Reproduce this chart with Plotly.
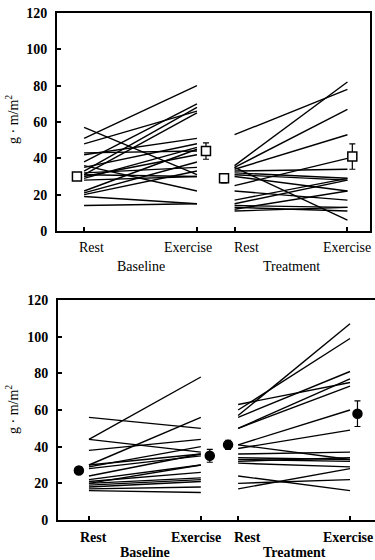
import plotly.graph_objects as go

# ---------------- data ----------------
conditions = ["Rest", "Exercise", "Rest", "Exercise"]
groups = ["Baseline", "Treatment"]

# Top panel (open squares)
top_base_rest = [57, 51, 48, 43, 42, 38, 35, 33, 32, 31, 31, 30, 29, 28, 36, 22, 21, 20, 19, 14]
top_base_ex = [31, 80, 66, 44, 51, 70, 48, 68, 35, 65, 30, 42, 46, 30, 22, 45, 38, 33, 15, 15]
top_treat_rest = [53, 36, 35, 34, 25, 35, 33, 32, 31, 30, 22, 17, 15, 14, 13, 11, 12]
top_treat_ex = [78, 82, 67, 53, 40, 6, 34, 29, 28, 22, 17, 29, 28, 13, 11, 13, 22]
top_means = [30, 44, 29, 41]
top_errs = [2, 4.5, 2.5, 7]

# Bottom panel (filled circles)
bot_base_rest = [56, 44, 44, 30, 38, 30, 29, 28, 24, 22, 21, 20, 19, 18, 17, 16, 20]
bot_base_ex = [50, 78, 37, 56, 44, 36, 40, 35, 36, 30, 26, 23, 22, 21, 18, 15, 30]
bot_treat_rest = [57, 60, 63, 56, 50, 50, 41, 39, 41, 36, 34, 33, 32, 31, 24, 20, 17]
bot_treat_ex = [107, 99, 75, 81, 77, 73, 60, 49, 33, 37, 33, 32, 34, 29, 16, 22, 28]
bot_means = [27, 35, 41, 58]
bot_errs = [2, 3.5, 2.5, 7]

y_ticks = [0, 20, 40, 60, 80, 100, 120]
tick_pos = [1, 4, 5, 8]

FONT = "Liberation Serif"
W, H = 375, 560

fig = go.Figure()


def pair_xy(rest, ex, x0, x1):
    xs, ys = [], []
    for r, e in zip(rest, ex):
        xs += [x0, x1, None]
        ys += [r, e, None]
    return xs, ys


def add_panel(idx, base_r, base_e, tr_r, tr_e, means, errs, mean_offsets, symbol, mcolor):
    xa = "x" if idx == 1 else "x2"
    ya = "y" if idx == 1 else "y2"
    for r, e, (x0, x1) in [(base_r, base_e, (tick_pos[0], tick_pos[1])),
                           (tr_r, tr_e, (tick_pos[2], tick_pos[3]))]:
        xs, ys = pair_xy(r, e, x0, x1)
        fig.add_trace(go.Scatter(x=xs, y=ys, mode="lines", xaxis=xa, yaxis=ya,
                                 line=dict(color="black", width=1.4),
                                 hoverinfo="skip", showlegend=False))
    mx = [p + o for p, o in zip(tick_pos, mean_offsets)]
    fig.add_trace(go.Scatter(x=mx, y=means, mode="markers", xaxis=xa, yaxis=ya,
                             marker=dict(symbol=symbol, size=9, color=mcolor,
                                         line=dict(color="black", width=1.5)),
                             error_y=dict(type="data", array=errs, color="black",
                                          thickness=1.2, width=3),
                             showlegend=False))


add_panel(1, top_base_rest, top_base_ex, top_treat_rest, top_treat_ex,
          top_means, top_errs, [-0.19, 0.24, -0.28, 0.13], "square", "white")
add_panel(2, bot_base_rest, bot_base_ex, bot_treat_rest, bot_treat_ex,
          bot_means, bot_errs, [-0.27, 0.24, -0.27, 0.2], "circle", "black")


def px_x(p):
    return p / W


def px_y(p):
    return 1 - p / H


def fnt(bold, size=14):
    f = dict(family=FONT, size=size, color="black")
    if bold:
        f["weight"] = "bold"
    return f


def axis_common(bold):
    return dict(showgrid=False, zeroline=False, linecolor="black", linewidth=2,
                ticks="inside", tickcolor="black", ticklen=4, tickwidth=1.5,
                automargin=False, tickfont=fnt(bold), ticklabeloverflow="allow")


fig.update_layout(
    width=W, height=H,
    margin=dict(l=0, r=0, t=0, b=0, autoexpand=False),
    paper_bgcolor="white", plot_bgcolor="white",
    xaxis=dict(domain=[px_x(57), px_x(370)], range=[0.28, 8.6], anchor="y",
               tickvals=tick_pos, showticklabels=False, mirror=True,
               **axis_common(False)),
    yaxis=dict(domain=[px_y(231), px_y(13)], range=[0, 120], anchor="x",
               tickvals=y_ticks, mirror=True,
               ticklabelstandoff=5, **axis_common(True)),
    xaxis2=dict(domain=[px_x(58), px_x(375)], range=[0.17, 8.67], anchor="y2",
                tickvals=tick_pos, showticklabels=False, mirror=True,
                **axis_common(True)),
    yaxis2=dict(domain=[px_y(520), px_y(300)], range=[0, 120], anchor="x2",
                tickvals=y_ticks, mirror=False,
                ticklabelstandoff=5, **axis_common(True)),
)

ann = []
# condition labels (slightly displaced from their ticks, as in the original)
label_shift = {"x": [0.21, -0.24, 0.32, 0.0], "x2": [0.11, -0.13, 0.24, -0.05]}
for xa, yp, bold in [("x", 247, False), ("x2", 537, True)]:
    for c, p, s in zip(conditions, tick_pos, label_shift[xa]):
        ann.append(dict(x=p + s, xref=xa, y=px_y(yp), yref="paper", text=c,
                        showarrow=False, xanchor="center", yanchor="middle",
                        font=fnt(bold)))
# group labels
for xa, yp, bold in [("x", 266, False), ("x2", 552, True)]:
    for g, (a, b) in zip(groups, [(tick_pos[0], tick_pos[1]), (tick_pos[2], tick_pos[3])]):
        ann.append(dict(x=(a + b) / 2, xref=xa, y=px_y(yp), yref="paper",
                        text=g, showarrow=False, xanchor="center", yanchor="middle",
                        font=fnt(bold)))
# y-axis titles
for yp in [120, 410]:
    ann.append(dict(x=px_x(12), xref="paper", y=px_y(yp), yref="paper",
                    text="g · m/m<sup>2</sup>", textangle=-90, showarrow=False,
                    xanchor="center", yanchor="middle", font=fnt(False)))
fig.update_layout(annotations=ann)

fig.write_html(
    "out.html",
    config={"displayModeBar": False},
    post_script="document.body.style.margin='0';document.body.style.overflow='hidden';",
)
